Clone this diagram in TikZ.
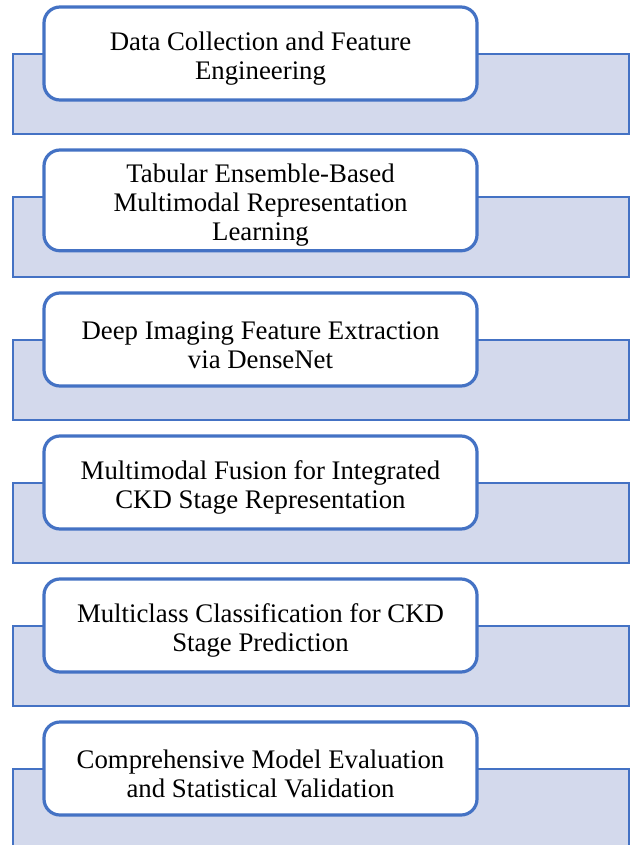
\documentclass[tikz,border=0pt]{standalone}
\usepackage{fontspec}
\setmainfont{Liberation Serif}
\usepackage{tikz}
\usetikzlibrary{positioning}
\definecolor{stageblue}{HTML}{4472C4}
\definecolor{stagefill}{HTML}{D3D9EC}
% taller first line, pushes the text a little down in its box
\newcommand{\topstrut}{\rule{0pt}{14.5pt}}
\tikzset{
  panel/.style={draw=stageblue, line width=1pt, fill=stagefill, minimum width=308pt, minimum height=40pt, inner sep=0pt, outer sep=0pt},
  stagebox/.style={draw=stageblue, line width=1.6pt, fill=white, rounded corners=8pt, align=center, minimum width=216.5pt, minimum height=46.5pt, inner sep=2pt, outer sep=0pt, font=\fontsize{13.4}{14.5}\selectfont},
}
\begin{document}
\begin{tikzpicture}[x=0.5pt, y=-0.5pt, node distance=31.5pt]
  \useasboundingbox (0,0) rectangle (629,845);
  % background panels
  \node[panel, anchor=north west] (p1) at (13,54) {};
  \node[panel, below=of p1] (p2) {};
  \node[panel, below=of p2] (p3) {};
  \node[panel, below=of p3] (p4) {};
  \node[panel, below=of p4] (p5) {};
  \node[panel, below=of p5] (p6) {};
  % stage boxes on top
  \node[stagebox, anchor=north west] (s1) at ([xshift=15.5pt, yshift=23.5pt]p1.north west) {\topstrut Data Collection and Feature\\Engineering};
  \node[stagebox, anchor=north west] (s2) at ([xshift=15.5pt, yshift=23.5pt]p2.north west) {\topstrut Tabular Ensemble-Based\\Multimodal Representation\\Learning};
  \node[stagebox, anchor=north west] (s3) at ([xshift=15.5pt, yshift=23.5pt]p3.north west) {\topstrut Deep Imaging Feature Extraction\\via DenseNet};
  \node[stagebox, anchor=north west] (s4) at ([xshift=15.5pt, yshift=23.5pt]p4.north west) {\topstrut Multimodal Fusion for Integrated\\CKD Stage Representation};
  \node[stagebox, anchor=north west] (s5) at ([xshift=15.5pt, yshift=23.5pt]p5.north west) {\topstrut Multiclass Classification for CKD\\Stage Prediction};
  \node[stagebox, anchor=north west] (s6) at ([xshift=15.5pt, yshift=23.5pt]p6.north west) {\topstrut Comprehensive Model Evaluation\\and Statistical Validation};
\end{tikzpicture}
\end{document}
